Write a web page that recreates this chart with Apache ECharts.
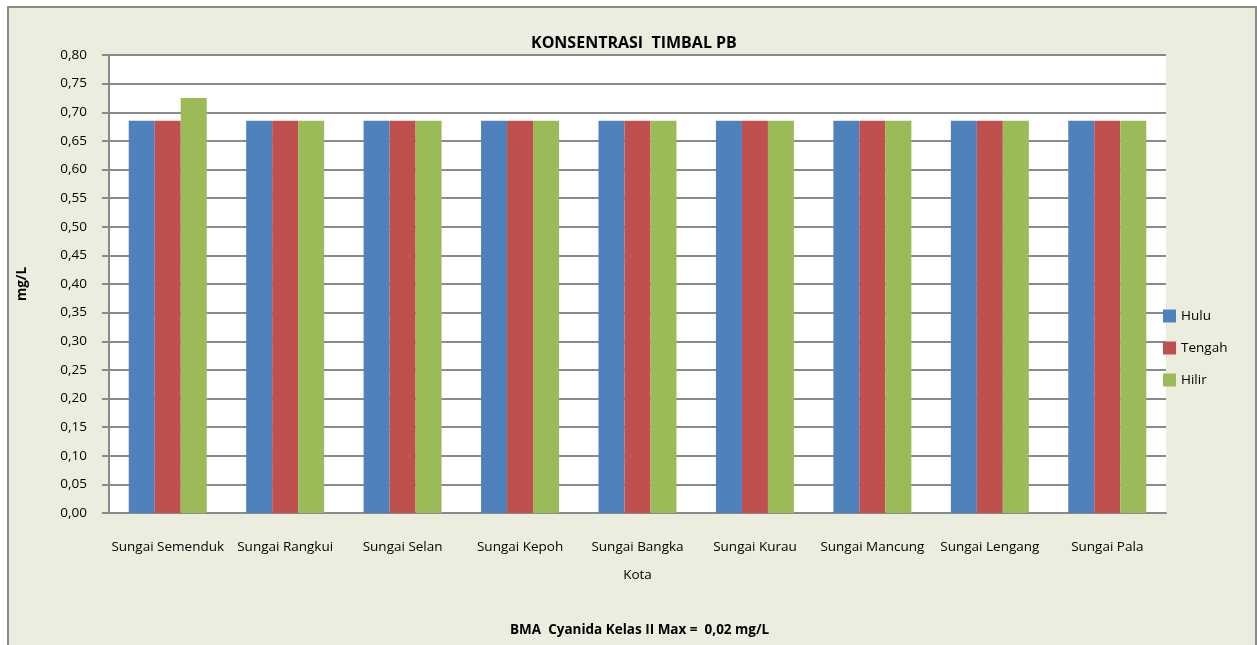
<!DOCTYPE html>
<html>
<head>
<meta charset="utf-8">
<script src="https://cdn.jsdelivr.net/npm/echarts@6/dist/echarts.min.js"></script>
<style>
  html, body { margin: 0; padding: 0; background: #fff; }
  #chart { width: 1257px; height: 645px; }
</style>
</head>
<body>
<div id="chart"></div>
<script>
// data
const categories = ['Sungai Semenduk', 'Sungai Rangkui', 'Sungai Selan', 'Sungai Kepoh', 'Sungai Bangka', 'Sungai Kurau', 'Sungai Mancung', 'Sungai Lengang', 'Sungai Pala']
const hulu = [0.685, 0.685, 0.685, 0.685, 0.685, 0.685, 0.685, 0.685, 0.685]
const tengah = [0.685, 0.685, 0.685, 0.685, 0.685, 0.685, 0.685, 0.685, 0.685]
const hilir = [0.725, 0.685, 0.685, 0.685, 0.685, 0.685, 0.685, 0.685, 0.685]

const font = 'Open Sans'
const gridColor = '#8a8a8a'

const chart = echarts.init(document.getElementById('chart'))

function bar(name, data, color) {
  return {
    name,
    type: 'bar',
    data,
    barGap: 0,
    barCategoryGap: '33.6%',
    itemStyle: { color }
  }
}

chart.setOption({
  animation: false,
  textStyle: { fontFamily: font },
  graphic: [
    {
      type: 'rect',
      z: -10,
      shape: { x: 8, y: 7, width: 1248, height: 660 },
      style: { fill: '#ebeedf', stroke: '#8a8a8a', lineWidth: 2 }
    }
  ],
  title: [
    {
      text: 'KONSENTRASI  TIMBAL PB',
      left: 526,
      top: 30,
      textStyle: { fontFamily: font, fontSize: 16, fontWeight: 'bold', color: '#000' }
    },
    {
      text: 'BMA  Cyanida Kelas II Max =  0,02 mg/L',
      left: 505,
      top: 618,
      textStyle: { fontFamily: font, fontSize: 13.5, fontWeight: 'bold', color: '#000' }
    }
  ],
  legend: {
    orient: 'vertical',
    left: 1158,
    top: 304,
    itemWidth: 13,
    itemHeight: 13,
    itemGap: 18,
    icon: 'rect',
    textStyle: { fontFamily: font, fontSize: 13.5, color: '#000' },
    data: ['Hulu', 'Tengah', 'Hilir']
  },
  grid: {
    left: 109,
    right: 91,
    top: 55,
    bottom: 132,
    show: true,
    backgroundColor: '#fff',
    borderWidth: 0
  },
  xAxis: {
    type: 'category',
    data: categories,
    name: 'Kota',
    nameLocation: 'middle',
    nameGap: 55,
    nameTextStyle: { fontFamily: font, fontSize: 13.5, color: '#000' },
    axisLine: { lineStyle: { color: gridColor, width: 2 } },
    axisTick: { show: false },
    axisLabel: { margin: 27, fontFamily: font, fontSize: 13.5, color: '#000', interval: 0 }
  },
  yAxis: {
    type: 'value',
    min: 0,
    max: 0.8,
    interval: 0.05,
    name: 'mg/L',
    nameLocation: 'middle',
    nameGap: 80,
    nameTextStyle: { fontFamily: font, fontSize: 13.5, fontWeight: 'bold', color: '#000' },
    axisLine: { show: true, lineStyle: { color: gridColor, width: 2 } },
    axisTick: { show: true, length: 7, lineStyle: { color: gridColor, width: 2 } },
    splitLine: { lineStyle: { color: gridColor, width: 2 } },
    axisLabel: {
      margin: 22,
      fontFamily: font,
      fontSize: 13.5,
      color: '#000',
      formatter: v => v.toFixed(2).replace('.', ',')
    }
  },
  series: [
    bar('Hulu', hulu, '#4f81bd'),
    bar('Tengah', tengah, '#c0504d'),
    bar('Hilir', hilir, '#9bbb59')
  ]
})
</script>
</body>
</html>
